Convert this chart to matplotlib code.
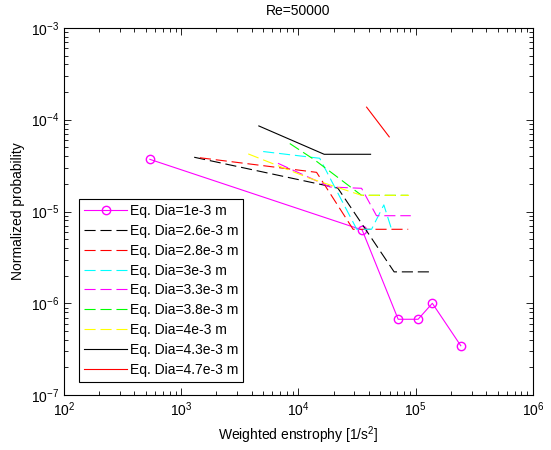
import numpy as np
import matplotlib
matplotlib.use('Agg')
import matplotlib.pyplot as plt
import matplotlib.ticker as ticker

plt.rcParams['font.family'] = ['Liberation Sans', 'DejaVu Sans']
plt.rcParams['lines.scale_dashes'] = False
plt.rcParams['mathtext.default'] = 'regular'

# enstrophy / probability pairs for each equivalent bubble diameter
d10_x = [541, 35000, 71000, 105000, 139000, 243000]
d10_y = [3.7e-5, 6.3e-6, 6.7e-7, 6.7e-7, 1.0e-6, 3.45e-7]

d26_x = [1292, 21700, 65600, 137000]
d26_y = [3.9e-5, 1.8e-5, 2.2e-6, 2.2e-6]

d28_x = [1445, 14300, 29300, 86500]
d28_y = [3.85e-5, 2.67e-5, 6.4e-6, 6.4e-6]

d30_x = [5010, 15200, 31500, 42100, 53600, 62400]
d30_y = [4.5e-5, 3.8e-5, 6.4e-6, 6.4e-6, 1.18e-5, 6.4e-6]

d33_x = [6700, 18600, 34600, 46400, 91000]
d33_y = [3.35e-5, 1.85e-5, 1.79e-5, 9.0e-6, 9.0e-6]

d38_x = [8450, 13800, 34600, 86500]
d38_y = [5.5e-5, 3.64e-5, 1.5e-5, 1.5e-5]

d40_x = [3735, 12500, 34600, 88000]
d40_y = [4.24e-5, 2.3e-5, 1.5e-5, 1.5e-5]

d43_x = [4600, 16600, 41300]
d43_y = [8.55e-5, 4.2e-5, 4.2e-5]

d47_x = [38200, 59600]
d47_y = [1.37e-4, 6.5e-5]

labels = ['Eq. Dia=1e-3 m', 'Eq. Dia=2.6e-3 m', 'Eq. Dia=2.8e-3 m',
          'Eq. Dia=3e-3 m', 'Eq. Dia=3.3e-3 m', 'Eq. Dia=3.8e-3 m',
          'Eq. Dia=4e-3 m', 'Eq. Dia=4.3e-3 m', 'Eq. Dia=4.7e-3 m']

fig = plt.figure(figsize=(5.51, 4.5), dpi=100)
ax = fig.add_axes([0.116, 0.122, 0.851, 0.816])

dash = (8, 3.5)
lw = 0.8
ax.loglog(d10_x, d10_y, '-', color='#ff00ff', lw=lw, marker='o', ms=6,
          mfc='none', mec='#ff00ff', label=labels[0])
ax.loglog(d26_x, d26_y, '--', color='k', lw=lw, dashes=dash, label=labels[1])
ax.loglog(d28_x, d28_y, '--', color='#ff0000', lw=lw, dashes=dash, label=labels[2])
ax.loglog(d30_x, d30_y, '--', color='#00ffff', lw=lw, dashes=dash, label=labels[3])
ax.loglog(d33_x, d33_y, '--', color='#ff00ff', lw=lw, dashes=dash, label=labels[4])
ax.loglog(d38_x, d38_y, '--', color='#00ff00', lw=lw, dashes=dash, label=labels[5])
ax.loglog(d40_x, d40_y, '--', color='#ffff00', lw=lw, dashes=dash, label=labels[6])
ax.loglog(d43_x, d43_y, '-', color='k', lw=lw, label=labels[7])
ax.loglog(d47_x, d47_y, '-', color='#ff0000', lw=lw, label=labels[8])

ax.set_xlim(1e2, 1e6)
ax.set_ylim(1e-7, 1e-3)
ax.xaxis.set_major_locator(ticker.LogLocator(base=10, numticks=10))
ax.yaxis.set_major_locator(ticker.LogLocator(base=10, numticks=10))
ax.tick_params(which='both', direction='in', top=True, right=True,
               labelsize=10, width=0.6)
ax.tick_params(which='major', length=5)
ax.tick_params(which='minor', length=3)
for s in ax.spines.values():
    s.set_linewidth(0.8)

ax.set_title('Re=50000', fontsize=10, pad=9)
ax.set_xlabel('Weighted enstrophy [1/s$^2$]', fontsize=10)
ax.set_ylabel('Normalized probability', fontsize=10)

leg = ax.legend(loc='lower left', fontsize=10, handlelength=3.1,
                handletextpad=0.2, labelspacing=0.42, borderpad=0.35,
                fancybox=False, framealpha=1, edgecolor='k',
                bbox_to_anchor=(0.018, 0.018))
leg.get_frame().set_linewidth(0.8)

fig.savefig('out.png', dpi=100)
